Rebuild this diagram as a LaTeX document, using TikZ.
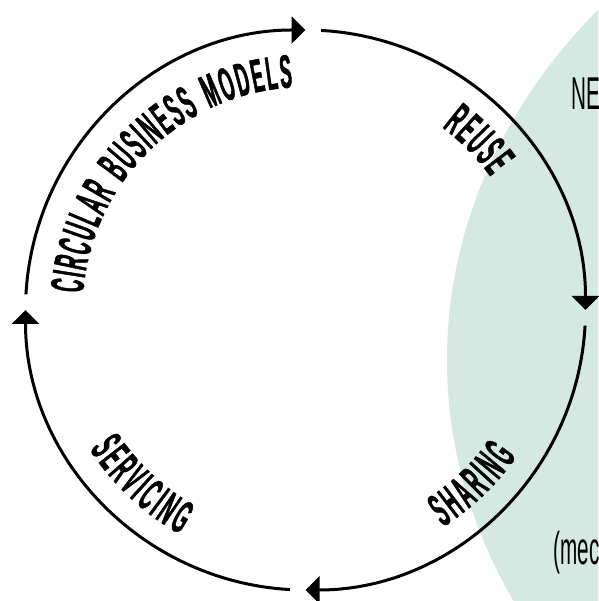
\documentclass[tikz,border=0pt]{standalone}
\usepackage{fontspec}
\newfontfamily\condfont[FakeStretch=0.38,FakeBold=1]{Liberation Sans}
\newfontfamily\thinfont[FakeStretch=0.45]{Liberation Sans}
\usetikzlibrary{arrows.meta,decorations.text}
\definecolor{tealbg}{HTML}{D3E9E1}
\newcommand\arcfont{\condfont\bfseries\fontsize{47}{47}\selectfont}
\newcommand\sidefont{\thinfont\fontsize{46}{46}\selectfont}
\newcommand\lsp{\kern2pt}
\newcommand\lsq{\kern3.4pt}
\newcommand\wsp{\kern11pt}
\begin{document}
\begin{tikzpicture}[x=1pt,y=1pt,
  ring/.style={line width=3pt,-{Triangle[length=14pt,width=27pt]}},
  cwtext/.style={decorate,decoration={text along path,text={|\arcfont|#1},text align=center}},
  plainlbl/.style={anchor=base west,inner sep=0pt,font=\sidefont}]
\useasboundingbox (0,0) rectangle (598,601);
\coordinate (C) at (305.5,291);
\begin{scope}
  \clip (0,0) rectangle (598,601);
  \fill[tealbg] (1107,241) ellipse [x radius=660,y radius=550];
  \node[plainlbl] (ne) at (571.5,491) {NE};
  \node[plainlbl] (mec) at (553.5,36) {(mec};
\end{scope}
% ring arcs
\draw[ring] ([shift={(176.8:280)}]C) arc[start angle=176.8,end angle=90,radius=280];
\draw[ring] ([shift={(86.8:280)}]C) arc[start angle=86.8,end angle=0,radius=280];
\draw[ring] ([shift={(-3.2:280)}]C) arc[start angle=-3.2,end angle=-90,radius=280];
\draw[ring] ([shift={(-93.2:280)}]C) arc[start angle=-93.2,end angle=-180,radius=280];
% curved labels
\path[cwtext={{C\lsp}{I\lsp}{R\lsp}{C\lsp}{U\lsp}{L\lsp}{A\lsp}{R}{\wsp}{B\lsp}{U\lsp}{S\lsp}{I\lsp}{N\lsp}{E\lsp}{S\lsp}{S}{\wsp}{M\lsp}{O\lsp}{D\lsp}{E\lsp}{L\lsp}{S}}] ([shift={(224.5:223)}]C) arc[start angle=224.5,end angle=44.5,radius=223];
\path[cwtext={{R\lsp}{E\lsp}{U\lsp}{S\lsp}{E}}] ([shift={(104.5:228)}]C) arc[start angle=104.5,end angle=-15.5,radius=228];
\path[cwtext={{S\lsq}{E\lsq}{R\lsq}{V\lsq}{I\lsq}{C\lsq}{I\lsq}{N\lsq}{G}}] ([shift={(166.8:257)}]C) arc[start angle=166.8,end angle=286.8,radius=257];
\path[cwtext={{S\lsq}{H\lsq}{A\lsq}{R\lsq}{I\lsq}{N\lsq}{G}}] ([shift={(-106.2:257)}]C) arc[start angle=-106.2,end angle=13.8,radius=257];
\end{tikzpicture}
\end{document}
